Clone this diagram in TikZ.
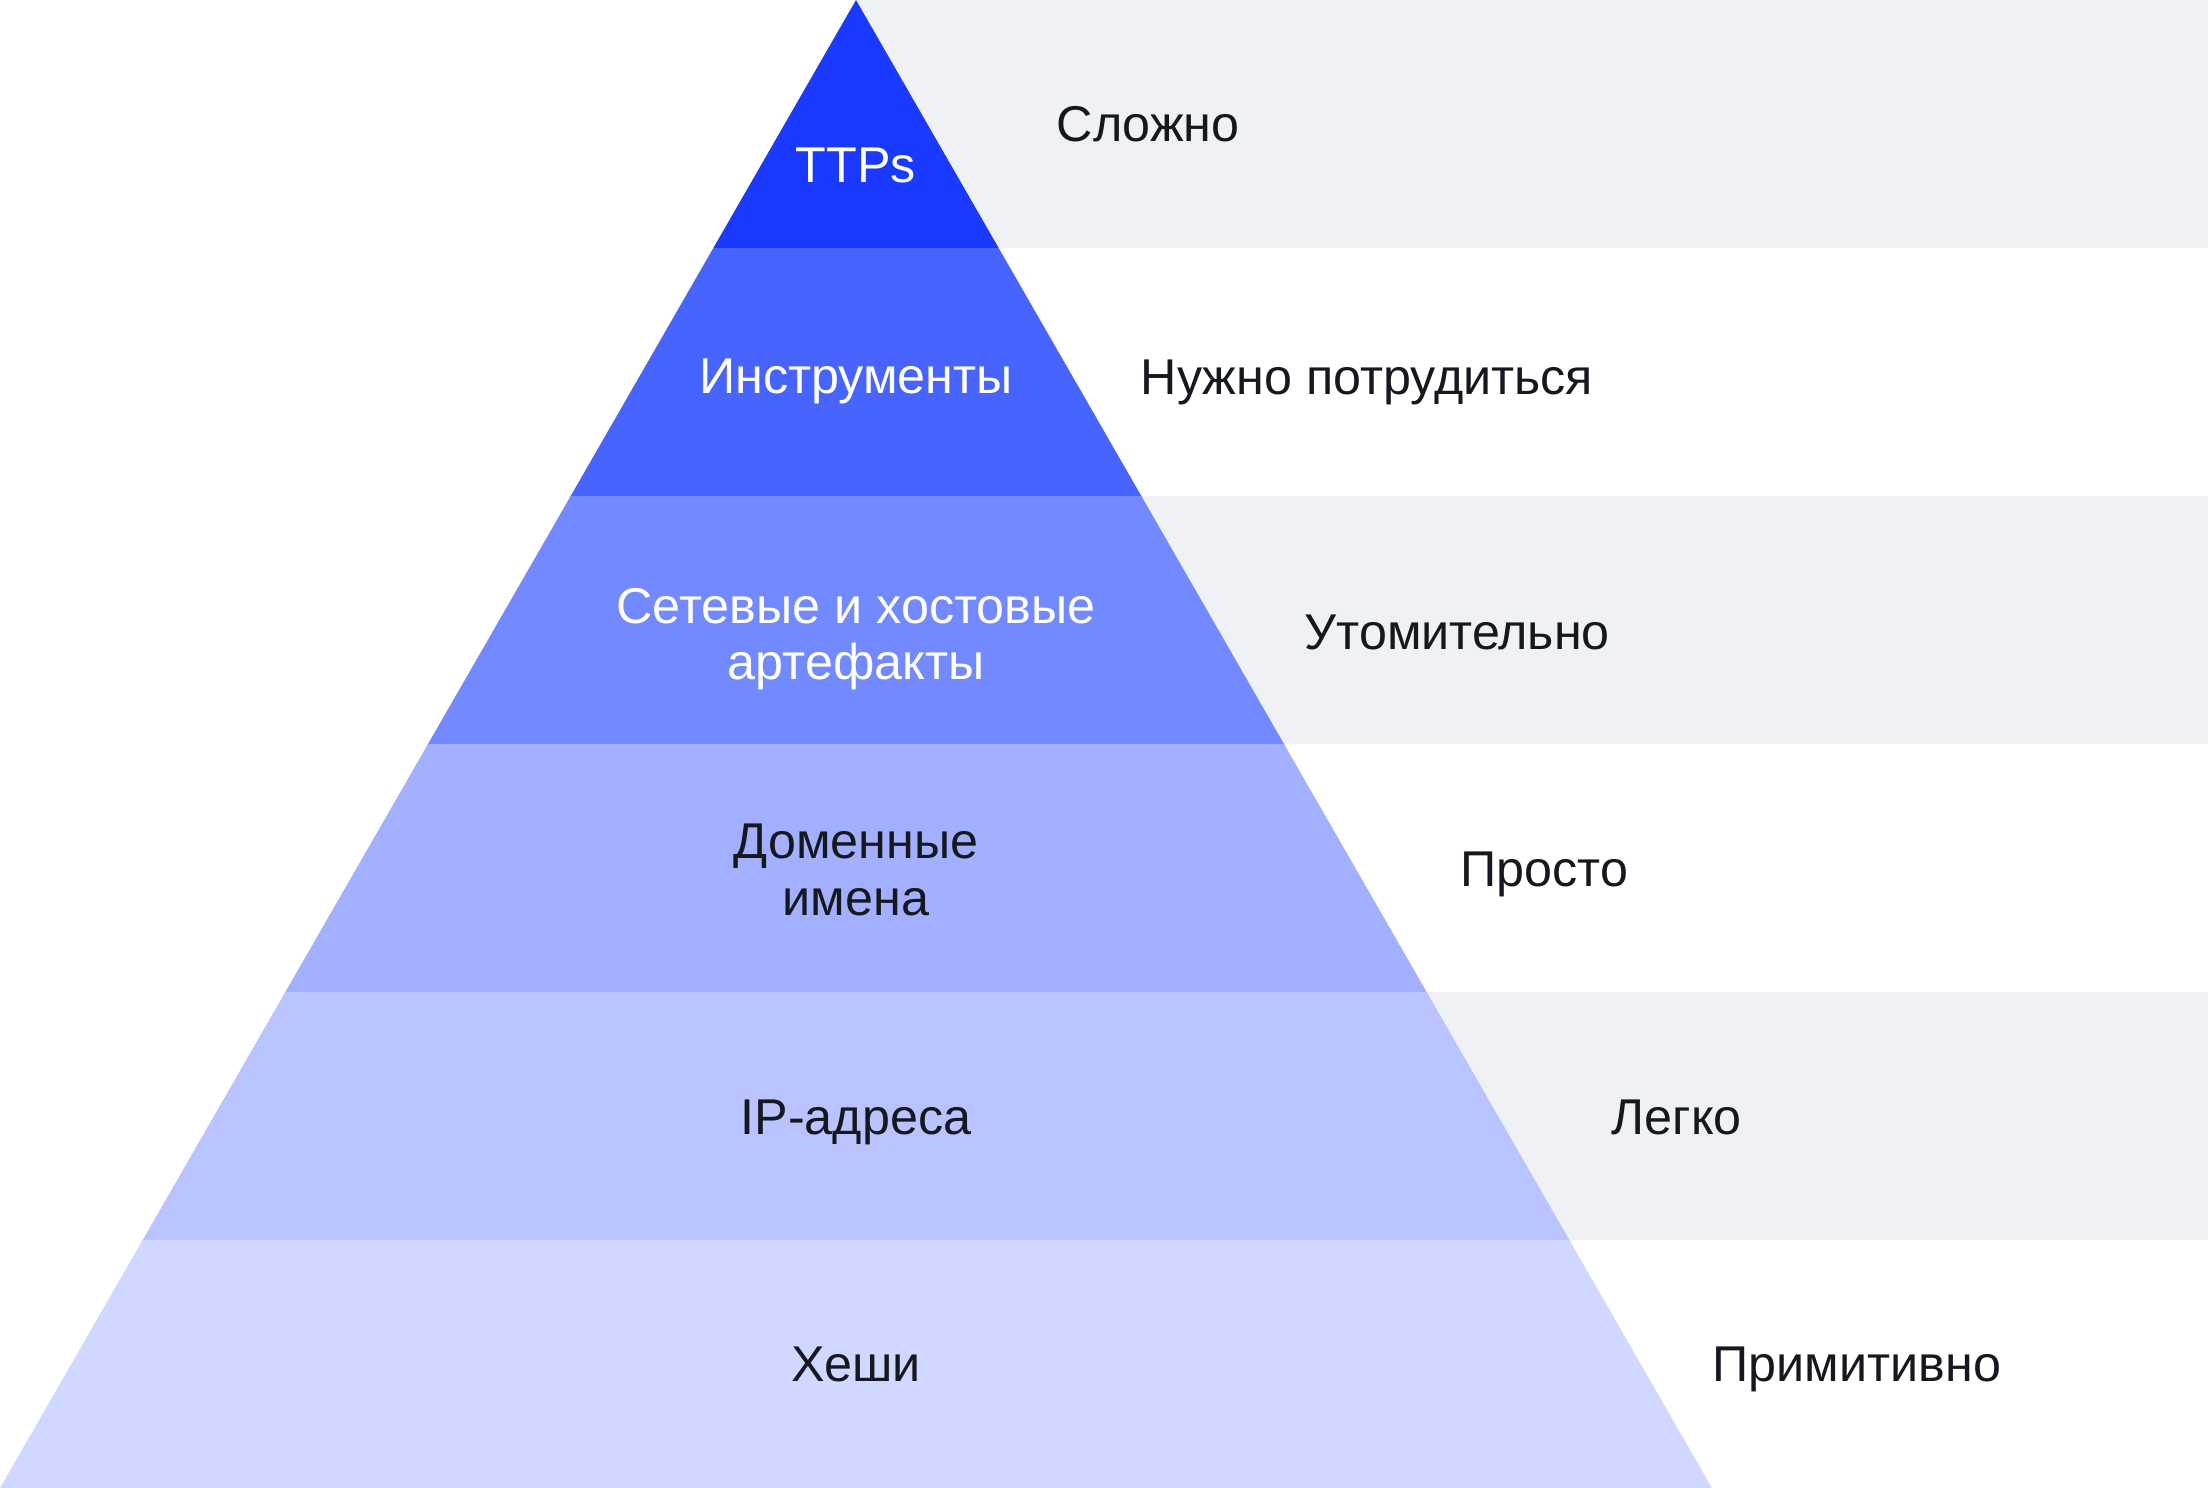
\documentclass[tikz,border=0pt]{standalone}
\usepackage{fontspec}
\setmainfont{Liberation Sans}
\usepackage{tikz}

\definecolor{bandA}{HTML}{1A3BFF}
\definecolor{bandB}{HTML}{4864FF}
\definecolor{bandC}{HTML}{7389FF}
\definecolor{bandD}{HTML}{A2B0FF}
\definecolor{bandE}{HTML}{B8C3FF}
\definecolor{bandF}{HTML}{D0D8FF}
\definecolor{stripe}{HTML}{F0F1F5}
\definecolor{ink}{HTML}{15191F}

\tikzset{
  lvl/.style={align=center,inner sep=0pt,font=\fontsize{14.3}{16}\selectfont},
  flat/.style={text depth=0pt},
  effort/.style={anchor=west,inner sep=0pt,text depth=0pt,text=ink,font=\fontsize{14.3}{16}\selectfont}
}

\begin{document}
\begin{tikzpicture}[x=0.01cm,y=-0.01cm]
\useasboundingbox (0,0) rectangle (2208,1488);
\foreach \y in {0,496,992}
  \fill[stripe] (856,\y) rectangle (2208,\y+248);

\begin{scope}
\clip (856,0) -- (1712,1488) -- (0,1488) -- cycle;
\foreach \i/\c in {0/bandA,1/bandB,2/bandC,3/bandD,4/bandE,5/bandF}
  \fill[\c] (0,\i*248) rectangle (1712,\i*248+248.5);
\end{scope}

\node[lvl,flat,text=white] (ttps) at (856,165) {TTPs};
\node[lvl,flat,text=white] (tools) at (856,376) {Инструменты};
\node[lvl,text=white] (artifacts) at (856,639) {Сетевые и хостовые\\артефакты};
\node[lvl,text=ink] (domains) at (856,870) {Доменные\\имена};
\node[lvl,flat,text=ink] (ips) at (856,1117) {IP-адреса};
\node[lvl,flat,text=ink] (hashes) at (856,1364) {Хеши};

\node[effort] (hard) at (1056,124) {Сложно};
\node[effort] (work) at (1140,377) {Нужно потрудиться};
\node[effort] (tiring) at (1304,632) {Утомительно};
\node[effort] (simple) at (1460,869) {Просто};
\node[effort] (easy) at (1611,1117) {Легко};
\node[effort] (trivial) at (1712,1364) {Примитивно};
\end{tikzpicture}
\end{document}
